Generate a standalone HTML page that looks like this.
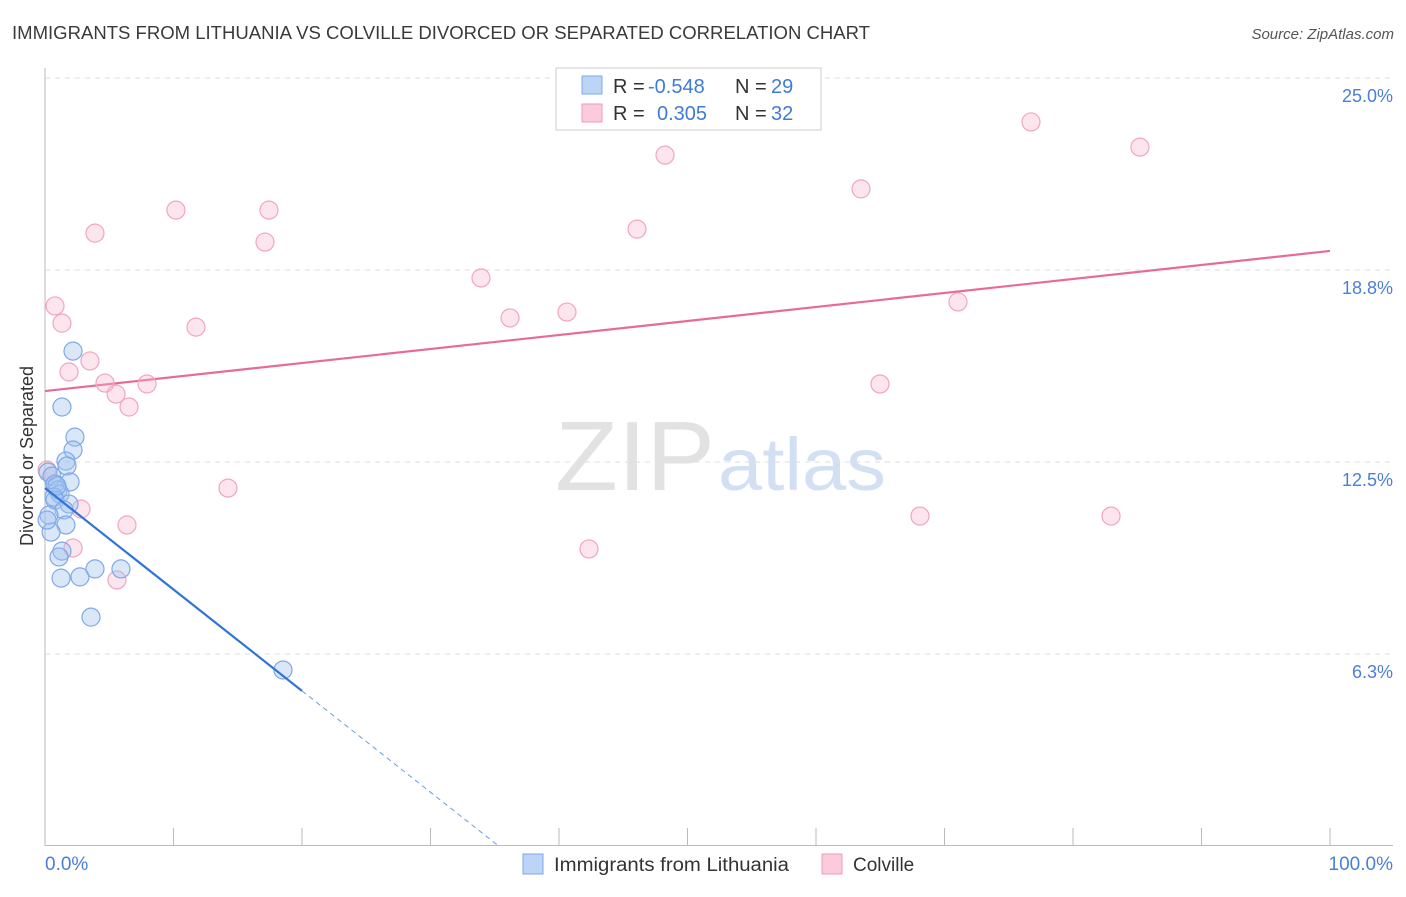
<!DOCTYPE html>
<html><head><meta charset="utf-8">
<style>
body{margin:0;background:#fff;font-family:"Liberation Sans",sans-serif;}
svg text{font-family:"Liberation Sans",sans-serif;}
</style></head>
<body>
<svg width="1406" height="892" viewBox="0 0 1406 892">
<text x="12" y="39" font-size="18" fill="#3a3a3a" textLength="858" lengthAdjust="spacingAndGlyphs">IMMIGRANTS FROM LITHUANIA VS COLVILLE DIVORCED OR SEPARATED CORRELATION CHART</text>
<text x="1394" y="39" font-size="15" fill="#555" text-anchor="end" font-style="italic">Source: ZipAtlas.com</text>
<g id="grid"></g>
<text x="555" y="490" font-size="98" fill="#e2e2e2" textLength="160" lengthAdjust="spacingAndGlyphs" font-family="Liberation Serif">ZIP</text>
<text x="718" y="490" font-size="74" fill="#d3e0f3" textLength="168" lengthAdjust="spacingAndGlyphs">atlas</text>
<line x1="45" y1="68" x2="45" y2="846" stroke="#bbb"/>
<line x1="45" y1="845.5" x2="1393" y2="845.5" stroke="#bbb"/>
<g id="ticks"></g>
<text x="33" y="456" font-size="18" fill="#333" text-anchor="middle" transform="rotate(-90 33 456)">Divorced or Separated</text>
<text x="45" y="870" font-size="19" fill="#4a7fd6">0.0%</text>
<text x="1393" y="870" font-size="19" fill="#4a7fd6" text-anchor="end">100.0%</text>
<g id="marks"></g>
<g>
<rect x="556" y="68" width="265" height="62" fill="#fff" stroke="#ccc"/>
<rect x="582" y="76" width="20" height="18" fill="#bcd4f5" stroke="#7fa9e6"/>
<rect x="582" y="104" width="20" height="18" fill="#fbcbd9" stroke="#f09ab5"/>
<text x="613" y="93" font-size="20" fill="#333">R =</text>
<text x="648" y="93" font-size="20" fill="#3f7bd9">-0.548</text>
<text x="735" y="93" font-size="20" fill="#333">N =</text>
<text x="771" y="93" font-size="20" fill="#3f7bd9">29</text>
<text x="613" y="120" font-size="20" fill="#333">R =</text>
<text x="657" y="120" font-size="20" fill="#3f7bd9">0.305</text>
<text x="735" y="120" font-size="20" fill="#333">N =</text>
<text x="771" y="120" font-size="20" fill="#3f7bd9">32</text>
</g>
<g>
<rect x="523" y="854" width="20" height="20" fill="#bcd4f5" stroke="#7fa9e6"/>
<text x="554" y="871" font-size="19" fill="#333" textLength="235" lengthAdjust="spacingAndGlyphs">Immigrants from Lithuania</text>
<rect x="822" y="854" width="20" height="20" fill="#fbcbd9" stroke="#f09ab5"/>
<text x="853" y="871" font-size="19" fill="#333">Colville</text>
</g>
</svg>
<script>
const yTicks=[6.25,12.5,18.75,25];
const yTickLabels=["6.3%","12.5%","18.8%","25.0%"];
const xTicks=[0,10,20,30,40,50,60,70,80,90,100];
const blueX=[2.18,1.32,2.33,2.18,1.63,1.71,0.23,0.54,1.95,0.78,1.01,1.17,0.70,0.78,1.87,1.48,0.31,1.63,0.47,1.32,1.09,1.25,2.72,3.89,5.91,3.58,18.52,0.16,0.93];
const blueY=[16.11,14.29,13.31,12.89,12.53,12.37,12.17,12.04,11.85,11.78,11.59,11.46,11.36,11.26,11.13,10.94,10.77,10.45,10.22,9.60,9.41,8.72,8.76,9.02,9.02,7.45,5.73,10.61,11.72];
const pinkX=[0.16,0.78,1.32,3.89,10.19,17.43,17.12,11.75,3.50,1.87,4.67,5.53,7.94,6.54,2.80,14.24,6.38,2.18,5.60,33.93,36.19,40.62,42.33,46.07,48.25,63.50,64.98,71.05,68.09,76.73,82.96,85.21];
const pinkY=[12.24,17.58,17.02,19.95,20.70,20.70,19.66,16.89,15.79,15.43,15.07,14.71,15.04,14.29,10.97,11.65,10.45,9.70,8.66,18.49,17.19,17.38,9.67,20.08,22.49,21.39,15.04,17.71,10.74,23.57,10.74,22.75];
const blueTrend=[11.65,-0.33];
const pinkTrend=[14.81,0.0456];
const NS="http://www.w3.org/2000/svg";
const X=v=>45+v*12.85, Y=v=>846-v*30.72;
function mk(tag,attrs,parent){const e=document.createElementNS(NS,tag);for(const k in attrs)e.setAttribute(k,attrs[k]);document.getElementById(parent).appendChild(e);return e;}
yTicks.forEach((t,i)=>{
 const g=mk('line',{x1:45,x2:1393,y1:Y(t),y2:Y(t),stroke:'#ddd','stroke-dasharray':'5,5'},'grid');
 
 
 const l=mk('text',{x:1393,y:Y(t)+24,'font-size':18,fill:'#4a7fd6','text-anchor':'end'},'grid');
 l.textContent=yTickLabels[i];
 
 
});
xTicks.forEach(t=>{
 const e=mk('line',{x1:X(t),x2:X(t),y1:828,y2:846,stroke:'#bbb'},'ticks');
 
 
});
let e=mk('line',{x1:X(0),y1:Y(pinkTrend[0]),x2:X(100),y2:Y(pinkTrend[0]+100*pinkTrend[1]),stroke:'#e86a98','stroke-width':2.2},'marks');


const bEnd=20, bZero=-blueTrend[0]/blueTrend[1];
pinkX.forEach((x,i)=>{
 const c=mk('circle',{cx:X(x),cy:Y(pinkY[i]),r:9,fill:'rgba(248,180,203,0.35)',stroke:'#f2a5bf','stroke-width':1.2},'marks');
 
 
});
blueX.forEach((x,i)=>{
 const c=mk('circle',{cx:X(x),cy:Y(blueY[i]),r:9,fill:'rgba(160,195,240,0.4)',stroke:'#7fa9e6','stroke-width':1.2},'marks');
 
 
});
e=mk('line',{x1:X(0),y1:Y(blueTrend[0]),x2:X(bEnd),y2:Y(blueTrend[0]+bEnd*blueTrend[1]),stroke:'#2f74d9','stroke-width':2.2},'marks');


e=mk('line',{x1:X(bEnd),y1:Y(blueTrend[0]+bEnd*blueTrend[1]),x2:X(bZero),y2:Y(0),stroke:'#6a9ce3','stroke-width':1,'stroke-dasharray':'5,4'},'marks');


</script>
</body></html>
